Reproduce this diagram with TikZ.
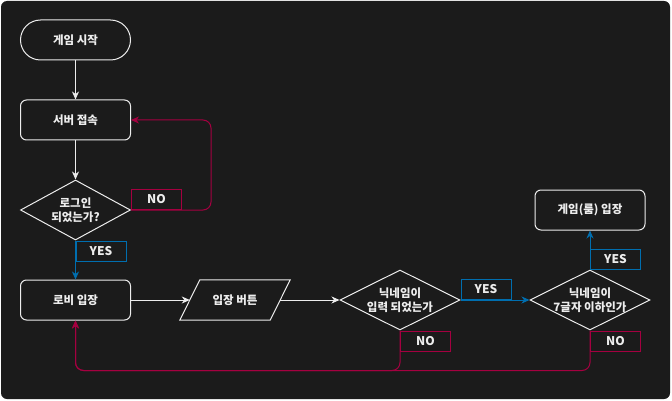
\documentclass[tikz,border=0pt]{standalone}
\usepackage{fontspec}
\setmainfont{Noto Sans CJK KR}
\usepackage{tikz}
\usetikzlibrary{arrows.meta,shapes.geometric}
\definecolor{bgdark}{HTML}{1B1B1B}
\definecolor{lineW}{HTML}{EDEDED}
\definecolor{noRed}{HTML}{A50040}
\definecolor{yesBlue}{HTML}{006EAF}

\begin{document}
\begin{tikzpicture}[x=1pt,y=-1pt,
    box/.style={draw=lineW,line width=1pt,rounded corners=6pt,minimum width=110pt,minimum height=40pt,text=lineW,font=\bfseries\fontsize{11.5}{13}\selectfont},
    term/.style={box,rounded corners=20pt},
    decision/.style={draw=lineW,line width=1pt,diamond,inner sep=0pt,minimum width=120pt,minimum height=60pt},
    inside/.style={text=lineW,align=center,font=\bfseries\fontsize{11.5}{14.5}\selectfont},
    tag/.style={fill=bgdark,line width=1pt,minimum width=50pt,minimum height=20pt,inner sep=0pt,text=lineW,font=\bfseries\fontsize{12}{13}\selectfont},
    noTag/.style={tag,draw=noRed},
    yesTag/.style={tag,draw=yesBlue},
    flow/.style={draw=lineW,line width=1pt,-{Stealth[length=8pt,width=7pt,inset=2.5pt]}},
    yesLine/.style={flow,draw=yesBlue},
    noLine/.style={flow,draw=noRed,rounded corners=8pt}]
    \useasboundingbox (0,0) rectangle (672,401);
    \fill[white] (0,0) rectangle (672,401);
    \fill[bgdark,rounded corners=6pt] (1,1) rectangle (670,399);

    \node[term] (start) at (75.5,40) {게임 시작};
    \node[box] (server) at (75.5,120) {서버 접속};
    \node[decision,minimum width=110pt,label={[inside]center:로그인\\되었는가?}] (login) at (75.5,210) {};
    \node[box] (lobby) at (75.5,300) {로비 입장};
    \node[minimum width=90pt,minimum height=40pt,inner sep=0pt,text=lineW,font=\bfseries\fontsize{11.5}{13}\selectfont] (btn) at (235,300) {입장 버튼};
    \node[decision,label={[inside]center:닉네임이\\입력 되었는가}] (nick) at (400,300) {};
    \node[decision,label={[inside]center:닉네임이\\7글자 이하인가}] (len) at (590,300) {};
    \node[box] (room) at (590,210) {게임(룸) 입장};

    \draw[lineW,line width=1pt] ([xshift=-10pt]btn.south west) -- ([xshift=10pt]btn.north west) -- ([xshift=10pt]btn.north east) -- ([xshift=-10pt]btn.south east) -- cycle;

    \draw[flow] (start) -- (server);
    \draw[flow] (server) -- (login);
    \draw[yesLine] (login.south) -- (lobby.north);
    \draw[noLine] (login.east) -- ++(80,0) |- (server.east);
    \draw[flow] (lobby) -- (btn);
    \draw[flow] (btn) -- (nick);
    \draw[yesLine] (nick.east) -- (len.west);
    \draw[yesLine] (len.north) -- (room.south);
    \draw[noLine] (nick.south) -- ++(0,40) -| (lobby.south);
    \draw[noLine] (len.south) -- ++(0,40) -| (lobby.south);

    \node[noTag,anchor=south west] (noLogin) at (login.east) {NO};
    \node[yesTag,anchor=north west] (yesLogin) at (login.south) {YES};
    \node[yesTag,anchor=south west] (yesNick) at (nick.east) {YES};
    \node[noTag,anchor=north west] (noNick) at (nick.south) {NO};
    \node[yesTag,anchor=south west] (yesLen) at (len.north) {YES};
    \node[noTag,anchor=north west] (noLen) at (len.south) {NO};
\end{tikzpicture}
\end{document}
